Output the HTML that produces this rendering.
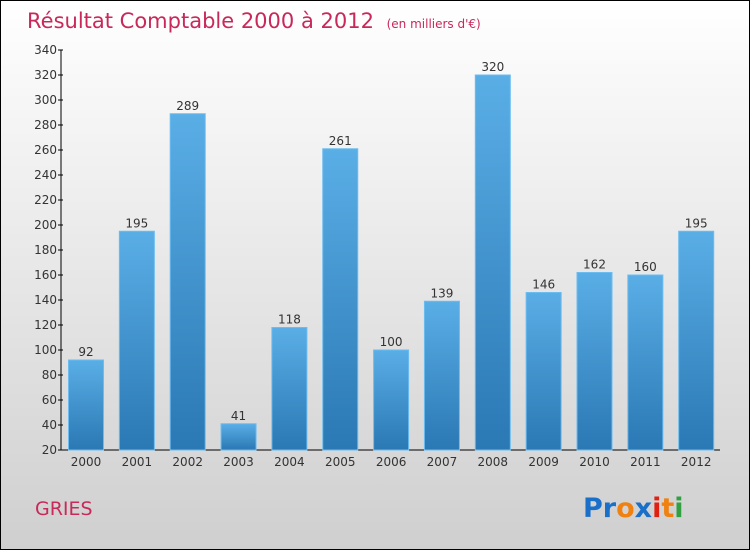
<!DOCTYPE html>
<html><head><meta charset="utf-8"><style>
body{margin:0}
#wrap{width:748px;height:548px;border:1px solid #000;background:linear-gradient(#fff,#cfcfcf);position:relative;font-family:"DejaVu Sans","Liberation Sans",sans-serif;overflow:hidden}
svg{position:absolute;left:0;top:0}
</style></head><body>
<div id="wrap">
<svg width="748" height="548" id="chart">
<defs><linearGradient id="bg" x1="0" y1="0" x2="0" y2="1"><stop offset="0" stop-color="#5aaee6"/><stop offset="1" stop-color="#2a78b4"/></linearGradient></defs>
<text x="26" y="27" font-size="21" fill="#c8285a">Résultat Comptable 2000 à 2012 <tspan font-size="12" dx="6">(en milliers d'€)</tspan></text>
<text x="34" y="514" font-size="19" fill="#c8285a">GRIES</text>
<text x="582" y="516" font-size="27" font-weight="bold"><tspan fill="#1a6fc8">Pr</tspan><tspan fill="#f08010">o</tspan><tspan fill="#1a6fc8">x</tspan><tspan fill="#e02010">i</tspan><tspan fill="#f08010">t</tspan><tspan fill="#30a040">i</tspan></text>
<g id="plot"></g>
</svg></div>
<script>
const categories=["2000","2001","2002","2003","2004","2005","2006","2007","2008","2009","2010","2011","2012"];
const values=[92,195,289,41,118,261,100,139,320,146,162,160,195];
const yTicks=[20,40,60,80,100,120,140,160,180,200,220,240,260,280,300,320,340];
const ns="http://www.w3.org/2000/svg";
const g=document.getElementById('plot');
const y=v=>449-(v-20)*1.25;
const x=i=>85+i*50.85;
function mk(t,a){const e=document.createElementNS(ns,t);for(const k in a)e.setAttribute(k,a[k]);g.appendChild(e);return e;}
let ax=mk('line',{x1:60,y1:y(340),x2:60,y2:449,stroke:'#000'});


let bx=mk('line',{x1:60,y1:449,x2:719,y2:449,stroke:'#000'});


yTicks.forEach(v=>{
 const t=mk('line',{x1:57,x2:62,y1:y(v),y2:y(v),stroke:'#000'});
 
 
 const l=mk('text',{x:56,y:y(v)+4,'font-size':12,'text-anchor':'end',fill:'#333'});
 l.textContent=v;
 
 
});
categories.forEach((c,i)=>{
 const v=values[i];
 const r=mk('rect',{x:x(i)-17.5,y:y(v),width:35,height:449-y(v),fill:'url(#bg)',stroke:'#6bbcf0','stroke-width':1});
 
 
 const vl=mk('text',{x:x(i),y:y(v)-4,'font-size':12,'text-anchor':'middle',fill:'#333'});
 vl.textContent=v;
 
 
 const xl=mk('text',{x:x(i),y:465,'font-size':12,'text-anchor':'middle',fill:'#333'});
 xl.textContent=c;
 
 
});
</script>
</body></html>
